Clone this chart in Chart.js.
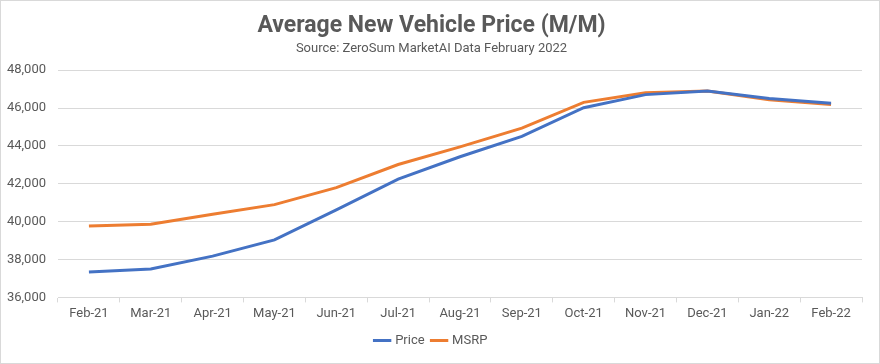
<!DOCTYPE html>
<html>
<head>
<meta charset="utf-8">
<script src="https://cdn.jsdelivr.net/npm/chart.js@4"></script>
<style>
  html, body { margin: 0; padding: 0; background: #fff; }
  .wrap { width: 878px; height: 362px; border: 1px solid #d9d9d9; }
</style>
</head>
<body>
<div class="wrap"><canvas id="myChart" width="878" height="362"></canvas></div>
<script>
const months = ['Feb-21', 'Mar-21', 'Apr-21', 'May-21', 'Jun-21', 'Jul-21', 'Aug-21',
    'Sep-21', 'Oct-21', 'Nov-21', 'Dec-21', 'Jan-22', 'Feb-22']
const price = [37340, 37500, 38180, 39040, 40620, 42250, 43430, 44500, 46020, 46710, 46900, 46500, 46250]
const msrp = [39770, 39860, 40390, 40900, 41800, 43020, 43950, 44940, 46300, 46810, 46900, 46440, 46190]
const yMin = 36000
const yMax = 48000
const yStep = 2000

const grey = '#595959'
const tickFont = { family: "'Roboto', sans-serif", size: 13 }

let ctx = document.getElementById('myChart')
let chart = new Chart(ctx, {
    type: 'line',
    data: {
        labels: months,
        datasets: [
            {
                label: 'Price',
                data: price,
                borderColor: '#4472C4',
                backgroundColor: '#4472C4',
                borderWidth: 3,
                pointRadius: 0,
                tension: 0,
            },
            {
                label: 'MSRP',
                data: msrp,
                borderColor: '#ED7D31',
                backgroundColor: '#ED7D31',
                borderWidth: 3,
                pointRadius: 0,
                tension: 0,
            }
        ]
    },
    options: {
        responsive: false,
        animation: false,
        layout: { padding: { left: 0, right: 17, top: 4, bottom: 6 } },
        plugins: {
            title: {
                display: true,
                text: 'Average New Vehicle Price (M/M)',
                color: grey,
                font: { family: "'Roboto', sans-serif", size: 23, weight: 'bold' },
                padding: { top: 7, bottom: 1 },
            },
            subtitle: {
                display: true,
                text: 'Source: ZeroSum MarketAI Data February 2022',
                color: grey,
                font: { family: "'Roboto', sans-serif", size: 13 },
                padding: { bottom: 14 },
            },
            legend: {
                position: 'bottom',
                labels: {
                    color: grey,
                    font: tickFont,
                    usePointStyle: true,
                    pointStyle: 'line',
                    boxWidth: 30,
                    padding: 8,
                },
            },
            tooltip: { enabled: false },
        },
        scales: {
            x: {
                offset: true,
                border: { color: '#d9d9d9' },
                grid: {
                    offset: true,
                    drawOnChartArea: false,
                    drawTicks: true,
                    tickLength: 5,
                    color: '#d9d9d9',
                },
                ticks: { color: grey, font: tickFont, maxRotation: 0, padding: 4 },
            },
            y: {
                min: yMin,
                max: yMax,
                border: { display: false },
                grid: { color: '#d9d9d9', drawTicks: false },
                ticks: {
                    stepSize: yStep,
                    color: grey,
                    font: tickFont,
                    padding: 12,
                    callback: v => v.toLocaleString('en-US'),
                },
                afterFit: s => { s.width = 57 },
            },
        }
    },
})
</script>
</body>
</html>
